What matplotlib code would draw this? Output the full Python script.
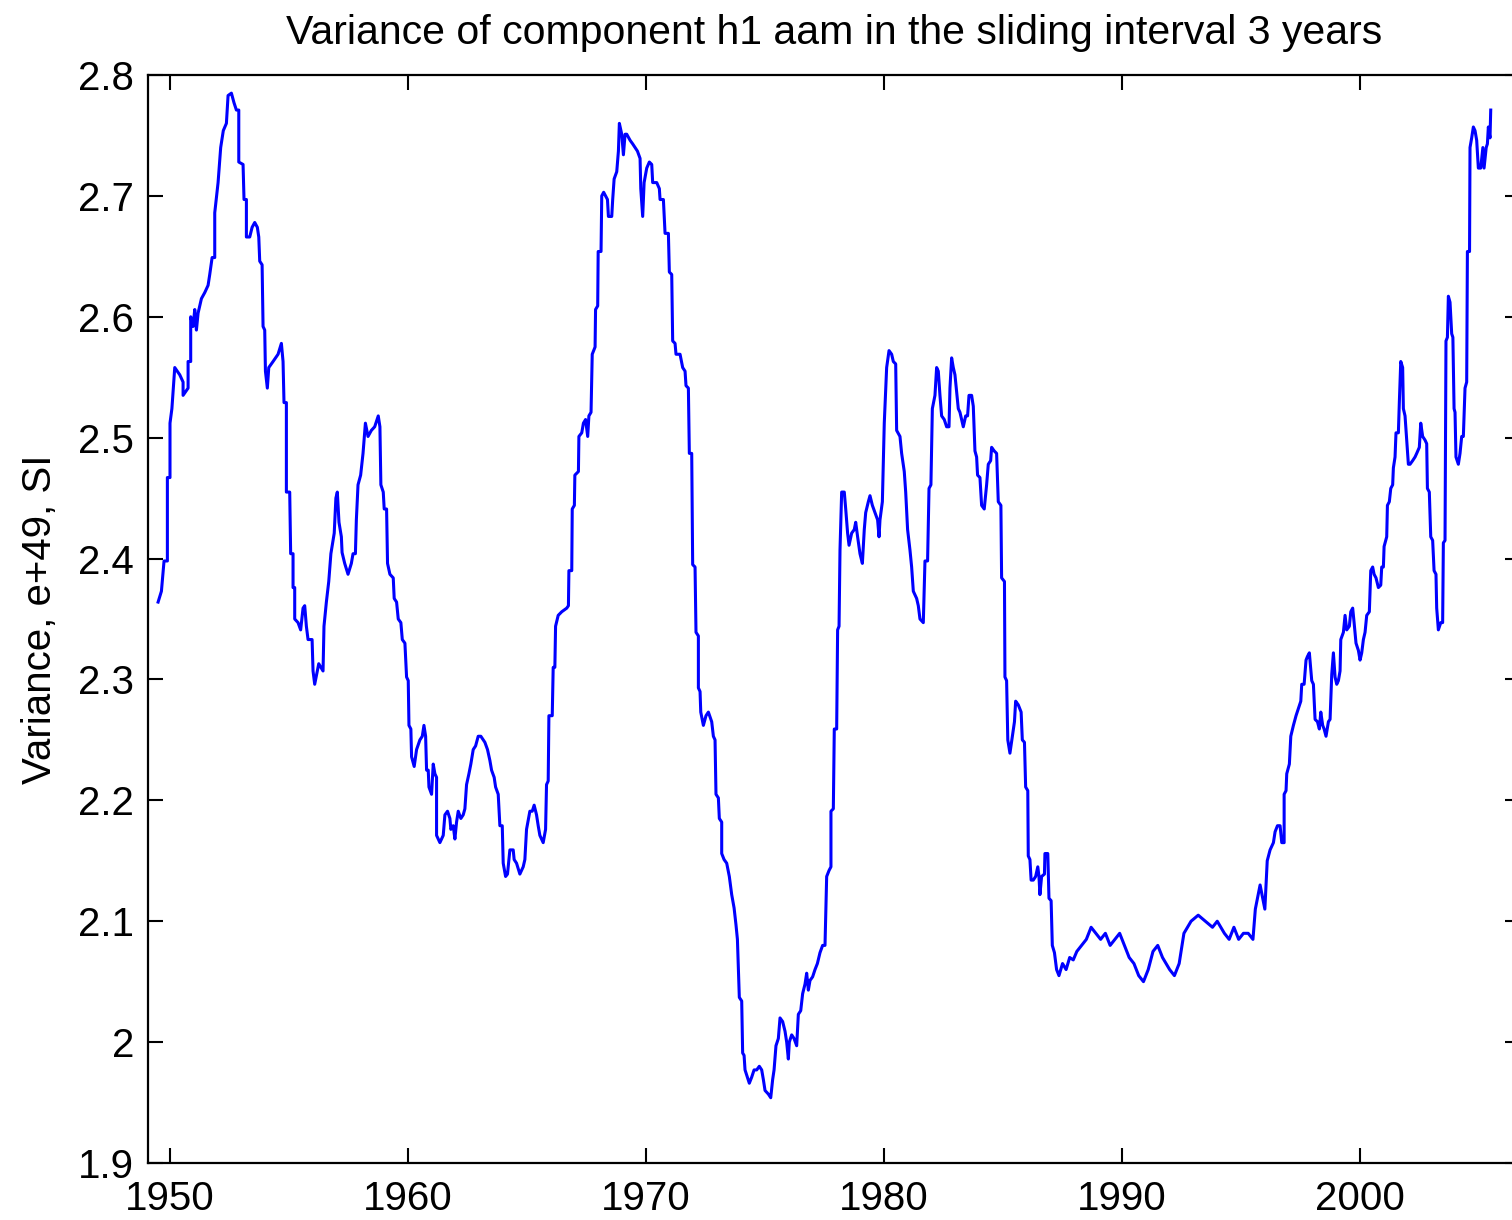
import numpy as np
import matplotlib
matplotlib.use('Agg')
import matplotlib.pyplot as plt

# Variance values, split by decade-ish stretches
years_1 = [1949.50, 1949.64, 1949.75, 1949.89, 1949.89, 1950.00, 1950.00, 1950.08, 1950.20, 1950.41,
           1950.55, 1950.55, 1950.76, 1950.76, 1950.87, 1950.87, 1950.97, 1951.04, 1951.11, 1951.18,
           1951.32, 1951.46, 1951.60, 1951.67, 1951.77, 1951.88, 1951.88, 1952.02, 1952.13, 1952.24,
           1952.37, 1952.44, 1952.58, 1952.69, 1952.79, 1952.89, 1952.89, 1953.07, 1953.11, 1953.21,
           1953.21, 1953.35, 1953.45, 1953.56, 1953.67, 1953.73, 1953.77, 1953.87, 1953.91, 1953.98,
           1954.01, 1954.09, 1954.15, 1954.33, 1954.54, 1954.68, 1954.75, 1954.79, 1954.89, 1954.89,
           1955.03, 1955.07, 1955.17, 1955.17, 1955.24, 1955.24, 1955.38, 1955.49, 1955.59, 1955.66,
           1955.73, 1955.80, 1955.97, 1956.01, 1956.08, 1956.15, 1956.25, 1956.43, 1956.47, 1956.57,
           1956.67, 1956.76, 1956.90, 1956.97, 1957.03, 1957.10, 1957.20, 1957.23, 1957.34, 1957.48,
           1957.62, 1957.69, 1957.79, 1957.83, 1957.90, 1958.01, 1958.11, 1958.21, 1958.32, 1958.46,
           1958.60]
values_1 = [2.364, 2.373, 2.398, 2.398, 2.467, 2.467, 2.512, 2.524, 2.558, 2.552,
            2.546, 2.535, 2.541, 2.563, 2.563, 2.600, 2.592, 2.606, 2.589, 2.603,
            2.615, 2.620, 2.626, 2.635, 2.649, 2.649, 2.686, 2.711, 2.740, 2.754,
            2.760, 2.783, 2.785, 2.777, 2.771, 2.771, 2.728, 2.726, 2.697, 2.697,
            2.666, 2.666, 2.674, 2.678, 2.674, 2.666, 2.646, 2.643, 2.592, 2.589,
            2.555, 2.541, 2.558, 2.563, 2.569, 2.578, 2.563, 2.529, 2.529, 2.455,
            2.455, 2.404, 2.404, 2.376, 2.376, 2.350, 2.347, 2.341, 2.359, 2.361,
            2.344, 2.333, 2.333, 2.307, 2.296, 2.303, 2.313, 2.307, 2.344, 2.364,
            2.381, 2.404, 2.421, 2.450, 2.455, 2.430, 2.418, 2.405, 2.396, 2.387,
            2.396, 2.404, 2.404, 2.432, 2.461, 2.469, 2.487, 2.512, 2.501, 2.506,
            2.509]

years_2 = [1958.75, 1958.82, 1958.86, 1958.96, 1959.00, 1959.10, 1959.14, 1959.24, 1959.38, 1959.42,
           1959.52, 1959.59, 1959.70, 1959.76, 1959.87, 1959.94, 1960.01, 1960.04, 1960.12, 1960.15,
           1960.26, 1960.36, 1960.50, 1960.60, 1960.67, 1960.74, 1960.78, 1960.85, 1960.88, 1960.99,
           1961.06, 1961.13, 1961.20, 1961.20, 1961.34, 1961.48, 1961.55, 1961.66, 1961.76, 1961.80,
           1961.90, 1961.97, 1962.04, 1962.11, 1962.22, 1962.32, 1962.39, 1962.46, 1962.56, 1962.64,
           1962.74, 1962.84, 1962.95, 1963.06, 1963.16, 1963.23, 1963.34, 1963.44, 1963.51, 1963.62,
           1963.68, 1963.79, 1963.86, 1963.96, 1964.00, 1964.10, 1964.18, 1964.28, 1964.42, 1964.46,
           1964.56, 1964.70, 1964.84, 1964.91, 1964.98, 1965.12, 1965.22, 1965.30, 1965.40, 1965.47,
           1965.54, 1965.68, 1965.78, 1965.82, 1965.89, 1965.92, 1966.06, 1966.10, 1966.17, 1966.20,
           1966.31, 1966.46, 1966.67, 1966.74, 1966.76, 1966.88, 1966.90, 1966.99, 1967.01, 1967.16,
           1967.18, 1967.30, 1967.37, 1967.46, 1967.55, 1967.60, 1967.69, 1967.74, 1967.86, 1967.88,
           1967.97, 1967.99, 1968.11, 1968.14, 1968.22]
values_2 = [2.518, 2.509, 2.461, 2.455, 2.441, 2.441, 2.396, 2.387, 2.384, 2.367,
            2.364, 2.350, 2.347, 2.333, 2.330, 2.302, 2.299, 2.262, 2.259, 2.236,
            2.228, 2.242, 2.250, 2.253, 2.262, 2.253, 2.225, 2.225, 2.211, 2.205,
            2.230, 2.222, 2.219, 2.171, 2.165, 2.171, 2.188, 2.191, 2.185, 2.176,
            2.179, 2.168, 2.182, 2.191, 2.185, 2.188, 2.193, 2.213, 2.222, 2.230,
            2.242, 2.245, 2.253, 2.253, 2.250, 2.248, 2.242, 2.233, 2.225, 2.219,
            2.211, 2.205, 2.179, 2.179, 2.148, 2.137, 2.139, 2.159, 2.159, 2.151,
            2.148, 2.139, 2.145, 2.151, 2.176, 2.191, 2.191, 2.196, 2.188, 2.179,
            2.171, 2.165, 2.176, 2.213, 2.216, 2.270, 2.270, 2.310, 2.310, 2.344,
            2.353, 2.356, 2.359, 2.361, 2.390, 2.390, 2.441, 2.444, 2.469, 2.472,
            2.501, 2.504, 2.512, 2.515, 2.501, 2.518, 2.521, 2.569, 2.575, 2.606,
            2.609, 2.654, 2.654, 2.700, 2.703]

years_3 = [1968.38, 1968.42, 1968.56, 1968.60, 1968.66, 1968.77, 1968.84, 1968.88, 1968.98, 1969.05,
           1969.12, 1969.19, 1969.33, 1969.44, 1969.54, 1969.64, 1969.75, 1969.78, 1969.86, 1969.92,
           1970.03, 1970.14, 1970.24, 1970.28, 1970.45, 1970.56, 1970.59, 1970.73, 1970.80, 1970.94,
           1970.98, 1971.08, 1971.12, 1971.22, 1971.26, 1971.43, 1971.54, 1971.64, 1971.68, 1971.78,
           1971.82, 1971.92, 1971.96, 1972.06, 1972.10, 1972.20, 1972.20, 1972.27, 1972.30, 1972.41,
           1972.52, 1972.62, 1972.76, 1972.83, 1972.90, 1972.94, 1973.04, 1973.08, 1973.18, 1973.18,
           1973.28, 1973.39, 1973.50, 1973.60, 1973.70, 1973.78, 1973.84, 1973.92, 1974.02, 1974.06,
           1974.12, 1974.16, 1974.26, 1974.34, 1974.44, 1974.54, 1974.65, 1974.76, 1974.86, 1974.93,
           1975.00, 1975.14, 1975.24, 1975.32, 1975.38, 1975.46, 1975.56, 1975.63, 1975.74, 1975.84,
           1975.91, 1975.98, 1976.02, 1976.12, 1976.22, 1976.33, 1976.40, 1976.50, 1976.58, 1976.68,
           1976.75, 1976.82, 1976.89, 1977.00, 1977.10, 1977.20, 1977.31, 1977.42, 1977.52]
values_3 = [2.697, 2.683, 2.683, 2.697, 2.714, 2.720, 2.737, 2.760, 2.751, 2.734,
            2.751, 2.751, 2.746, 2.743, 2.740, 2.737, 2.731, 2.706, 2.683, 2.711,
            2.723, 2.728, 2.726, 2.711, 2.711, 2.706, 2.697, 2.697, 2.669, 2.669,
            2.637, 2.635, 2.580, 2.578, 2.569, 2.569, 2.558, 2.555, 2.543, 2.541,
            2.487, 2.487, 2.395, 2.393, 2.339, 2.336, 2.293, 2.290, 2.273, 2.262,
            2.270, 2.273, 2.265, 2.253, 2.250, 2.205, 2.202, 2.185, 2.182, 2.156,
            2.151, 2.148, 2.137, 2.122, 2.111, 2.097, 2.085, 2.037, 2.034, 1.991,
            1.989, 1.977, 1.971, 1.966, 1.971, 1.977, 1.977, 1.980, 1.977, 1.969,
            1.960, 1.957, 1.954, 1.969, 1.977, 1.997, 2.003, 2.020, 2.017, 2.009,
            2.000, 1.986, 2.000, 2.006, 2.003, 1.997, 2.023, 2.026, 2.040, 2.048,
            2.057, 2.043, 2.051, 2.054, 2.060, 2.065, 2.074, 2.080, 2.080]

years_4 = [1977.59, 1977.69, 1977.77, 1977.77, 1977.87, 1977.91, 1978.01, 1978.05, 1978.11, 1978.15,
           1978.22, 1978.33, 1978.39, 1978.47, 1978.53, 1978.64, 1978.75, 1978.81, 1978.89, 1978.99,
           1979.09, 1979.17, 1979.23, 1979.34, 1979.41, 1979.51, 1979.62, 1979.73, 1979.79, 1979.83,
           1979.93, 1980.01, 1980.11, 1980.21, 1980.32, 1980.39, 1980.49, 1980.53, 1980.67, 1980.74,
           1980.85, 1980.91, 1980.99, 1981.09, 1981.16, 1981.23, 1981.37, 1981.44, 1981.51, 1981.65,
           1981.72, 1981.83, 1981.89, 1981.97, 1982.03, 1982.14, 1982.21, 1982.28, 1982.35, 1982.42,
           1982.53, 1982.63, 1982.73, 1982.77, 1982.84, 1982.91, 1982.98, 1983.05, 1983.12, 1983.19,
           1983.26, 1983.33, 1983.43, 1983.51, 1983.57, 1983.68, 1983.75, 1983.82, 1983.89, 1983.93,
           1984.03, 1984.10, 1984.21, 1984.31, 1984.38, 1984.48, 1984.52, 1984.63, 1984.73, 1984.80,
           1984.91, 1984.94, 1985.06, 1985.08, 1985.15, 1985.20, 1985.29, 1985.39, 1985.48, 1985.53,
           1985.64, 1985.76, 1985.81, 1985.90, 1985.95, 1986.04, 1986.06, 1986.13, 1986.18, 1986.27,
           1986.37, 1986.46, 1986.51, 1986.55, 1986.62, 1986.74, 1986.76, 1986.88, 1986.93, 1987.02,
           1987.07, 1987.16]
values_4 = [2.137, 2.142, 2.145, 2.191, 2.193, 2.259, 2.259, 2.341, 2.344, 2.407,
            2.455, 2.455, 2.441, 2.421, 2.411, 2.421, 2.424, 2.430, 2.418, 2.404,
            2.396, 2.424, 2.438, 2.447, 2.452, 2.444, 2.438, 2.432, 2.418, 2.432,
            2.447, 2.512, 2.558, 2.572, 2.569, 2.563, 2.561, 2.506, 2.501, 2.487,
            2.472, 2.455, 2.424, 2.407, 2.393, 2.373, 2.367, 2.361, 2.350, 2.347,
            2.398, 2.398, 2.458, 2.461, 2.524, 2.535, 2.558, 2.555, 2.535, 2.518,
            2.515, 2.509, 2.509, 2.541, 2.566, 2.558, 2.552, 2.538, 2.524, 2.521,
            2.515, 2.509, 2.518, 2.518, 2.535, 2.535, 2.526, 2.489, 2.484, 2.469,
            2.467, 2.444, 2.441, 2.461, 2.478, 2.481, 2.492, 2.489, 2.487, 2.447,
            2.444, 2.384, 2.381, 2.302, 2.299, 2.250, 2.239, 2.253, 2.265, 2.282,
            2.279, 2.273, 2.250, 2.248, 2.211, 2.208, 2.154, 2.151, 2.134, 2.134,
            2.137, 2.145, 2.137, 2.122, 2.137, 2.139, 2.156, 2.156, 2.119, 2.117,
            2.080, 2.074]

years_5 = [1987.25, 1987.35, 1987.50, 1987.65, 1987.80, 1987.95, 1988.10, 1988.30, 1988.50, 1988.70,
           1988.90, 1989.10, 1989.30, 1989.50, 1989.70, 1989.90, 1990.10, 1990.30, 1990.50, 1990.70,
           1990.90, 1991.10, 1991.30, 1991.50, 1991.70, 1992.00, 1992.20, 1992.40, 1992.60, 1992.90,
           1993.20, 1993.50, 1993.80, 1994.00, 1994.30, 1994.50, 1994.70, 1994.90, 1995.10, 1995.30,
           1995.50, 1995.60, 1995.80, 1996.00, 1996.10]
values_5 = [2.060, 2.055, 2.065, 2.060, 2.070, 2.068, 2.075, 2.080, 2.085, 2.095,
            2.090, 2.085, 2.090, 2.080, 2.085, 2.090, 2.080, 2.070, 2.065, 2.055,
            2.050, 2.060, 2.075, 2.080, 2.070, 2.060, 2.055, 2.065, 2.090, 2.100,
            2.105, 2.100, 2.095, 2.100, 2.090, 2.085, 2.095, 2.085, 2.090, 2.090,
            2.085, 2.110, 2.130, 2.110, 2.150]

years_6 = [1996.22, 1996.36, 1996.43, 1996.53, 1996.64, 1996.71, 1996.81, 1996.81, 1996.89, 1996.92,
           1997.03, 1997.09, 1997.20, 1997.31, 1997.41, 1997.51, 1997.55, 1997.65, 1997.73, 1997.79,
           1997.87, 1997.97, 1998.04, 1998.11, 1998.21, 1998.29, 1998.35, 1998.43, 1998.49, 1998.57,
           1998.67, 1998.74, 1998.81, 1998.88, 1998.95, 1999.02, 1999.09, 1999.16, 1999.19, 1999.30,
           1999.37, 1999.44, 1999.55, 1999.61, 1999.69, 1999.75, 1999.83, 1999.93, 2000.00, 2000.07,
           2000.14, 2000.21, 2000.28, 2000.39, 2000.45, 2000.53, 2000.59, 2000.67, 2000.77, 2000.87,
           2000.91, 2000.98, 2001.01, 2001.12, 2001.15, 2001.23, 2001.29, 2001.37, 2001.40, 2001.47,
           2001.51, 2001.61, 2001.65, 2001.71, 2001.79, 2001.82, 2001.89, 2001.96, 2002.03, 2002.10,
           2002.21, 2002.31, 2002.38, 2002.49, 2002.55, 2002.63, 2002.73, 2002.80, 2002.83, 2002.91,
           2002.97, 2003.05, 2003.11, 2003.19, 2003.22, 2003.29, 2003.39, 2003.47, 2003.50, 2003.57,
           2003.61, 2003.67, 2003.71, 2003.78, 2003.85, 2003.90, 2003.95, 2003.99, 2004.03, 2004.13,
           2004.20, 2004.27, 2004.34, 2004.41, 2004.48, 2004.51, 2004.60, 2004.62, 2004.69, 2004.76,
           2004.83, 2004.90, 2004.97, 2005.07, 2005.16, 2005.21, 2005.30, 2005.35, 2005.39, 2005.46,
           2005.49]
values_6 = [2.159, 2.165, 2.174, 2.179, 2.179, 2.165, 2.165, 2.205, 2.208, 2.222,
            2.230, 2.253, 2.262, 2.270, 2.276, 2.282, 2.296, 2.296, 2.316, 2.319,
            2.322, 2.299, 2.296, 2.267, 2.265, 2.259, 2.273, 2.262, 2.259, 2.253,
            2.265, 2.267, 2.304, 2.322, 2.302, 2.296, 2.299, 2.307, 2.333, 2.339,
            2.353, 2.341, 2.344, 2.356, 2.359, 2.347, 2.330, 2.324, 2.316, 2.322,
            2.333, 2.339, 2.353, 2.356, 2.390, 2.393, 2.387, 2.384, 2.376, 2.378,
            2.393, 2.393, 2.410, 2.418, 2.444, 2.447, 2.458, 2.461, 2.475, 2.484,
            2.504, 2.504, 2.529, 2.563, 2.558, 2.524, 2.518, 2.498, 2.478, 2.478,
            2.481, 2.484, 2.487, 2.492, 2.512, 2.501, 2.498, 2.495, 2.458, 2.455,
            2.418, 2.415, 2.390, 2.387, 2.359, 2.341, 2.347, 2.347, 2.413, 2.415,
            2.580, 2.583, 2.617, 2.612, 2.586, 2.583, 2.524, 2.521, 2.484, 2.478,
            2.487, 2.501, 2.501, 2.541, 2.546, 2.654, 2.654, 2.740, 2.748, 2.757,
            2.754, 2.746, 2.723, 2.723, 2.740, 2.723, 2.740, 2.743, 2.757, 2.748,
            2.771]

x_ticks = [1950, 1960, 1970, 1980, 1990, 2000]
y_ticks = [1.9, 2.0, 2.1, 2.2, 2.3, 2.4, 2.5, 2.6, 2.7, 2.8]
y_tick_labels = ['1.9', '2', '2.1', '2.2', '2.3', '2.4', '2.5', '2.6', '2.7', '2.8']

years = np.concatenate([years_1, years_2, years_3, years_4, years_5, years_6])
values = np.concatenate([values_1, values_2, values_3, values_4, values_5, values_6])

plt.rcParams['font.family'] = ['Liberation Sans', 'DejaVu Sans']

fig = plt.figure(figsize=(15.12, 12.2), dpi=100)
ax = fig.add_axes([148 / 1512, 57 / 1220, 1372 / 1512, 1088 / 1220])

ax.plot(years, values, color='#0000ff', linewidth=2.2)

ax.set_xlim(1949.076, 2006.72)
ax.set_ylim(1.9, 2.8)
ax.set_xticks(x_ticks)
ax.set_yticks(y_ticks)
ax.set_yticklabels(y_tick_labels)

ax.tick_params(direction='in', length=11, width=1.5, top=True, right=True,
               labelsize=29, pad=10)
ax.tick_params(axis='x', pad=12)
for side in ax.spines.values():
    side.set_linewidth(1.6)

ax.set_ylabel('Variance, e+49, SI', fontsize=29, labelpad=14)
ax.set_title('Variance of component h1 aam in the sliding interval 3 years', fontsize=29.5, pad=22)

fig.savefig('out.png', dpi=100)
